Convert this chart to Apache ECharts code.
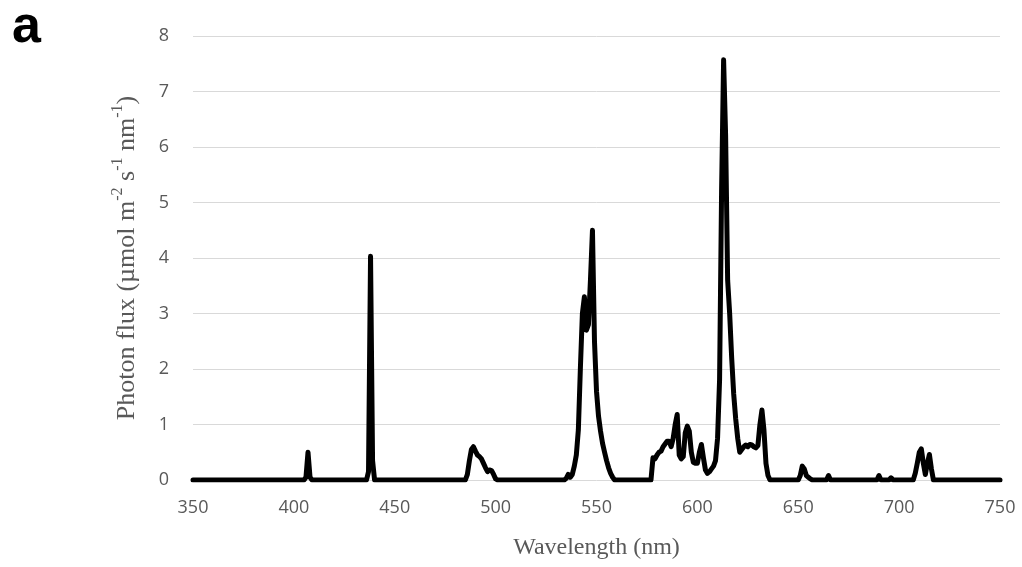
<!DOCTYPE html>
<html>
<head>
<meta charset="utf-8">
<script src="https://cdn.jsdelivr.net/npm/echarts@6/dist/echarts.min.js"></script>
<style>
  html, body { margin: 0; padding: 0; background: #fff; }
  #chart { width: 1022px; height: 567px; }
</style>
</head>
<body>
<div id="chart"></div>
<script>
// Emission spectrum of the lamp: wavelength (nm) and photon flux (µmol m-2 s-1 nm-1)
const wavelengths = [
  350, 405, 406, 407, 408, 409,
  436, 437, 438, 439, 440,
  485, 486, 487, 488, 489, 490, 491, 492, 493, 494, 495, 496, 497, 498, 499, 500, 501,
  534, 535, 536, 537, 538, 539, 540, 541, 542, 543, 544, 545, 546, 547, 548, 549, 550,
  551, 552, 553, 554, 555, 556, 557, 558, 559,
  577, 578, 579, 580, 581, 582, 583, 584, 585, 586, 587, 588, 589, 590, 591, 592, 593,
  594, 595, 596, 597, 598, 599, 600, 601, 602, 603, 604, 605, 606, 607, 608, 609, 610,
  611, 612, 613, 614, 615, 616, 617, 618, 619, 620, 621, 622, 623, 624, 625, 626, 627,
  628, 629, 630, 631, 632, 633, 634, 635, 636,
  650, 651, 652, 653, 654, 655, 656, 657,
  664, 665, 666,
  689, 690, 691,
  695, 696, 697,
  707, 708, 709, 710, 711, 712, 713, 714, 715, 716, 717,
  750
];
const photonFlux = [
  0, 0, 0.05, 0.5, 0.05, 0,
  0, 0.15, 4.03, 0.35, 0,
  0, 0.1, 0.35, 0.55, 0.6, 0.52, 0.45, 0.42, 0.38, 0.3, 0.22, 0.15, 0.18, 0.17, 0.1, 0.02, 0,
  0, 0.03, 0.1, 0.05, 0.1, 0.25, 0.45, 0.9, 2.0, 3.0, 3.3, 2.7, 2.8, 3.6, 4.5, 2.5, 1.6,
  1.15, 0.88, 0.66, 0.5, 0.35, 0.22, 0.12, 0.05, 0,
  0, 0.4, 0.38, 0.45, 0.5, 0.52, 0.6, 0.65, 0.7, 0.7, 0.6, 0.75, 1.0, 1.18, 0.45, 0.38, 0.42,
  0.85, 0.97, 0.88, 0.5, 0.32, 0.3, 0.3, 0.5, 0.64, 0.4, 0.18, 0.12, 0.15, 0.2, 0.25, 0.35, 0.75,
  1.8, 5.2, 7.57, 6.2, 3.6, 3.0, 2.2, 1.55, 1.1, 0.75, 0.5, 0.55, 0.6, 0.63, 0.6, 0.64, 0.63,
  0.6, 0.58, 0.62, 1.0, 1.26, 0.9, 0.3, 0.08, 0,
  0, 0.08, 0.25, 0.2, 0.08, 0.05, 0.02, 0,
  0, 0.08, 0,
  0, 0.08, 0,
  0, 0.04, 0,
  0, 0.12, 0.3, 0.5, 0.56, 0.3, 0.1, 0.3, 0.46, 0.2, 0,
  0
];

// Axis ranges and ticks
const xMin = 350, xMax = 750, xStep = 50;
const yMin = 0, yMax = 8, yStep = 1;

const points = wavelengths.map((w, i) => [w, photonFlux[i]]);

const tickFont = { color: '#595959', fontSize: 18, fontFamily: 'Open Sans' };
const serif = 'Liberation Serif';

const chart = echarts.init(document.getElementById('chart'), null, { renderer: 'canvas' });
chart.setOption({
  animation: false,
  backgroundColor: '#ffffff',
  grid: { left: 193, right: 22, top: 36, bottom: 87 },
  graphic: [{
    type: 'text',
    left: 12,
    top: 2,
    style: { text: 'a', fontSize: 52, fontWeight: 'bold', fontFamily: 'Liberation Sans', fill: '#000' }
  }],
  xAxis: {
    type: 'value',
    min: xMin, max: xMax, interval: xStep,
    axisLine: { show: false },
    axisTick: { show: false },
    splitLine: { show: false },
    axisLabel: Object.assign({ margin: 19 }, tickFont),
    name: 'Wavelength (nm)',
    nameLocation: 'middle',
    nameGap: 56,
    nameTextStyle: { fontFamily: serif, fontSize: 24, color: '#595959' }
  },
  yAxis: {
    type: 'value',
    min: yMin, max: yMax, interval: yStep,
    axisLine: { show: false },
    axisTick: { show: false },
    splitLine: { lineStyle: { color: '#d9d9d9', width: 1 } },
    axisLabel: Object.assign({ margin: 24 }, tickFont),
    name: '{t|Photon flux (µmol m}{s|-2}{t| s}{s|-1}{t| nm}{s|-1}{t|)}',
    nameLocation: 'middle',
    nameRotate: 90,
    nameGap: 53,
    nameTextStyle: {
      color: '#595959',
      rich: {
        t: { fontFamily: serif, fontSize: 26, color: '#595959', lineHeight: 30, verticalAlign: 'bottom' },
        s: { fontFamily: serif, fontSize: 16, color: '#595959', lineHeight: 30, verticalAlign: 'top' }
      }
    }
  },
  series: [{
    type: 'line',
    data: points,
    showSymbol: false,
    symbol: 'none',
    lineStyle: { color: '#000000', width: 5, join: 'round', cap: 'round' },
    z: 3
  }]
});
</script>
</body>
</html>
